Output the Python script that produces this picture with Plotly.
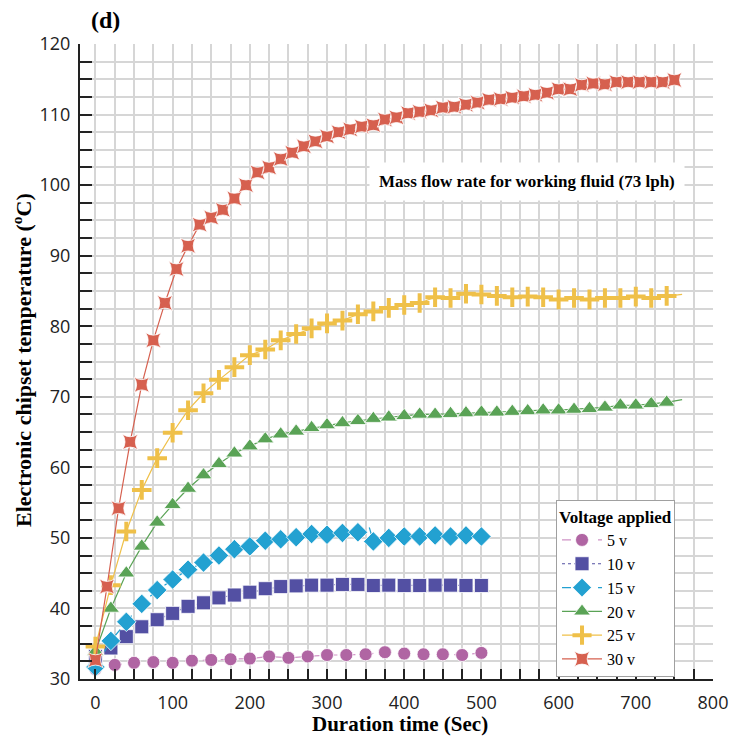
import plotly.graph_objects as go

# ---------------- data ----------------
t5 = [0, 25, 50, 75, 100, 125, 150, 175, 200, 225, 250, 275, 300, 325, 350, 375, 400, 425, 450, 475, 500]
v5 = [31.4, 32.0, 32.3, 32.4, 32.3, 32.6, 32.7, 32.8, 32.9, 33.2, 33.0, 33.2, 33.4, 33.4, 33.5, 33.8, 33.6, 33.5, 33.5, 33.4, 33.7]

t10 = [0, 20, 40, 60, 80, 100, 120, 140, 160, 180, 200, 220, 240, 260, 280, 300, 320, 340, 360, 380, 400, 420, 440, 460, 480, 500]
v10 = [33.2, 34.4, 36.0, 37.4, 38.4, 39.3, 40.3, 40.8, 41.5, 41.9, 42.3, 42.8, 43.1, 43.2, 43.3, 43.3, 43.4, 43.4, 43.25, 43.3, 43.25, 43.25, 43.3, 43.3, 43.25, 43.25]

t15 = [0, 20, 40, 60, 80, 100, 120, 140, 160, 180, 200, 220, 240, 260, 280, 300, 320, 340, 355, 360, 380, 400, 420, 440, 460, 480, 500]
v15 = [31.7, 35.4, 38.1, 40.65, 42.6, 44.1, 45.5, 46.5, 47.5, 48.4, 48.8, 49.6, 49.8, 50.1, 50.55, 50.45, 50.7, 50.8, 51.4, 49.5, 50.0, 50.2, 50.2, 50.35, 50.2, 50.35, 50.2]

t20 = [0, 20, 40, 60, 80, 100, 120, 140, 160, 180, 200, 220, 240, 260, 280, 300, 320, 340, 360, 380,
       400, 420, 440, 460, 480, 500, 520, 540, 560, 580, 600, 620, 640, 660, 680, 700, 720, 740, 760]
v20 = [33.9, 40.0, 45.0, 48.8, 52.2, 54.7, 57.0, 58.9, 60.5, 62.0, 63.0, 64.0, 64.7, 65.1, 65.6, 66.0, 66.3, 66.6, 66.9, 67.1,
       67.3, 67.5, 67.5, 67.6, 67.7, 67.8, 67.8, 67.9, 68.0, 68.1, 68.1, 68.2, 68.3, 68.5, 68.8, 68.8, 69.0, 69.2, 69.6]

t25 = [0, 20, 40, 60, 80, 100, 120, 140, 160, 180, 200, 220, 240, 260, 280, 300, 320, 340, 360, 380,
       400, 420, 440, 460, 480, 500, 520, 540, 560, 580, 600, 620, 640, 660, 680, 700, 720, 740, 760]
v25 = [34.6, 43.3, 50.9, 56.8, 61.3, 64.9, 68.1, 70.5, 72.4, 74.2, 75.9, 76.7, 78.0, 78.9, 79.7, 80.4, 80.8, 81.7, 82.1, 82.6,
       83.0, 83.3, 84.1, 84.0, 84.6, 84.5, 84.3, 84.1, 84.2, 84.1, 83.8, 84.0, 83.8, 84.0, 84.0, 84.2, 84.0, 84.3, 84.5]

t30 = [0, 15, 30, 45, 60, 75, 90, 105, 120, 135, 150, 165, 180, 195, 210, 225, 240, 255, 270, 285,
       300, 315, 330, 345, 360, 375, 390, 405, 420, 435, 450, 465, 480, 495, 510, 525, 540, 555, 570, 585,
       600, 615, 630, 645, 660, 675, 690, 705, 720, 735, 750]
v30 = [32.7, 43.1, 54.2, 63.6, 71.7, 78.0, 83.3, 88.1, 91.4, 94.4, 95.4, 96.5, 98.1, 100.0, 101.8, 102.5, 103.7, 104.6, 105.5, 106.2,
       106.9, 107.5, 107.9, 108.3, 108.5, 109.3, 109.6, 110.2, 110.4, 110.6, 111.0, 111.1, 111.4, 111.7, 112.1, 112.2, 112.4, 112.6, 112.8, 113.1,
       113.6, 113.6, 114.2, 114.4, 114.3, 114.6, 114.6, 114.6, 114.6, 114.6, 114.9]

series_names = ["5 v", "10 v", "15 v", "20 v", "25 v", "30 v"]
x_ticks = [0, 100, 200, 300, 400, 500, 600, 700, 800]

# ---------------- styling ----------------
SERIF = "Liberation Serif"
SANS = "Open Sans"
colors = ["#b065a3", "#5350a3", "#23a1d1", "#5aa356", "#efc049", "#d6604f"]
line_colors = ["#cf93c6", "#5350a3", "#23a1d1", "#5aa356", "#efc049", "#d6604f"]
symbols = ["circle", "square", "diamond", "triangle-up", "cross-thin-open", "star-square"]
sizes = [13, 14, 15, 15, 14, 14]
dashes = ["dash", "dot", "dash", "solid", "solid", "solid"]
data = [(t5, v5), (t10, v10), (t15, v15), (t20, v20), (t25, v25), (t30, v30)]
steps = [25, 20, 20, 20, 20, 15]
last_marked = [500, 500, 500, 740, 740, 750]

fig = go.Figure()
for i, (tx, vy) in enumerate(data):
    # markers only at the regular sampling instants
    msize = [sizes[i] if (t % steps[i] == 0 and t <= last_marked[i]) else 0 for t in tx]
    if symbols[i] == "cross-thin-open":
        marker = dict(symbol=symbols[i], size=msize, color=colors[i], opacity=1,
                      line=dict(width=4, color=colors[i]))
    else:
        marker = dict(symbol=symbols[i], size=msize, color=colors[i], opacity=1,
                      line=dict(width=0.8, color="white"))
    fig.add_trace(go.Scatter(
        x=tx, y=vy, name=series_names[i], mode="lines+markers", opacity=1,
        line=dict(color=line_colors[i], width=1.2, dash=dashes[i]),
        marker=marker,
    ))

grid_c = "#d6d6d6"
fig.update_layout(
    width=743, height=734,
    paper_bgcolor="white", plot_bgcolor="white",
    margin=dict(l=72, r=38, t=36, b=63),
    font=dict(family=SANS, size=19, color="#222"),
    showlegend=True,
    legend=dict(
        title=dict(text="<b>Voltage applied</b>", font=dict(family=SERIF, size=17, color="black")),
        font=dict(family=SERIF, size=16, color="black"),
        x=0.752, y=0.282, xanchor="left", yanchor="top",
        bgcolor="white", bordercolor="#a0a0a0", borderwidth=1,
        itemwidth=40, tracegroupgap=0,
    ),
    xaxis=dict(
        range=[-20, 800], tickvals=x_ticks,
        showgrid=True, gridcolor=grid_c, gridwidth=1.5,
        ticks="inside", ticklen=10, tickwidth=1.5, tickcolor="#222",
        minor=dict(dtick=25, tick0=0, showgrid=True, gridcolor=grid_c, gridwidth=1.5,
                   ticks="inside", ticklen=10, tickwidth=1.5, tickcolor="#222"),
        showline=True, linecolor="#222", linewidth=2, zeroline=False,
        tickfont=dict(family=SANS, size=18, color="#222"),
        ticklabelstandoff=6, automargin=False,
    ),
    yaxis=dict(
        range=[30, 120], tick0=30, dtick=10,
        showgrid=True, gridcolor=grid_c, gridwidth=1.5,
        ticks="inside", ticklen=12, tickwidth=1.5, tickcolor="#222",
        minor=dict(dtick=2.5, tick0=30, showgrid=True, gridcolor=grid_c, gridwidth=1.5,
                   ticks="inside", ticklen=12, tickwidth=1.5, tickcolor="#222"),
        showline=True, linecolor="#222", linewidth=2, zeroline=False,
        tickfont=dict(family=SANS, size=18, color="#222"),
        ticklabelstandoff=4, automargin=False,
    ),
    annotations=[
        dict(text="<b>Mass flow rate for working fluid (73 lph)</b>", xref="paper", yref="paper",
             x=0.706, y=0.784, xanchor="center", yanchor="middle", showarrow=False,
             font=dict(family=SERIF, size=17, color="black"), bgcolor="white", borderpad=9),
        dict(text="<b>(d)</b>", xref="paper", yref="paper", x=0.014, y=1.038,
             xanchor="left", yanchor="middle", showarrow=False,
             font=dict(family=SERIF, size=24, color="black")),
        dict(text="<b>Duration time (Sec)</b>", xref="paper", yref="paper", x=0.506, y=-0.071,
             xanchor="center", yanchor="middle", showarrow=False,
             font=dict(family=SERIF, size=21, color="black")),
        dict(text="<b>Electronic chipset temperature (<sup>o</sup>C)</b>", xref="paper", yref="paper",
             x=-0.092, y=0.502, xanchor="center", yanchor="middle", showarrow=False, textangle=-90,
             font=dict(family=SERIF, size=22, color="black")),
    ],
)

fig.write_html("out.html")
